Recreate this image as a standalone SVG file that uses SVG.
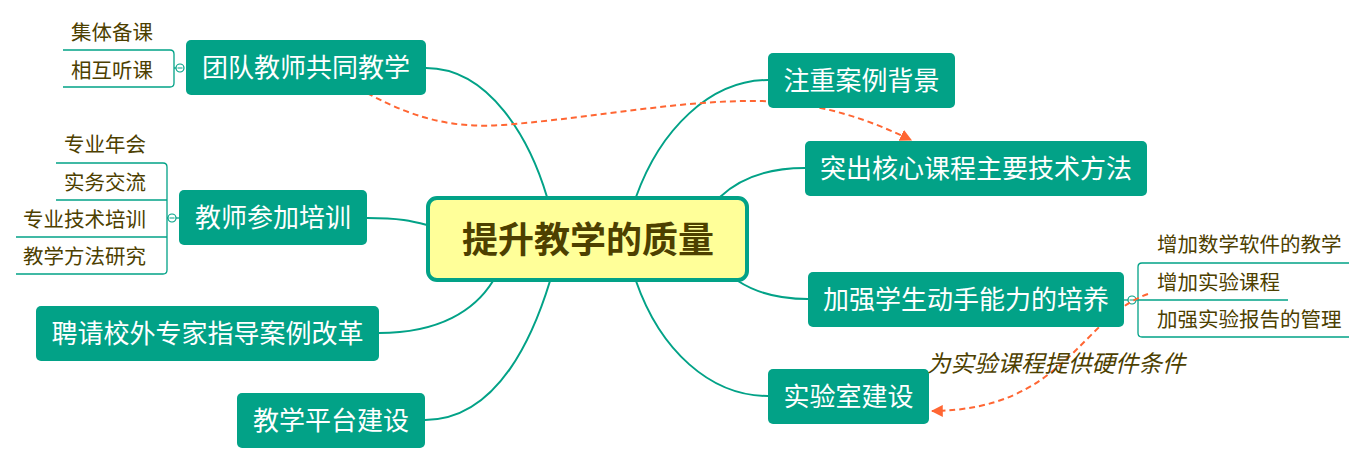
<svg xmlns="http://www.w3.org/2000/svg" width="1365" height="465" viewBox="0 0 1365 465">
<defs>
<style>
.node{fill:#02A287;}
.nt{font-family:"Noto Sans CJK SC","Noto Sans",sans-serif;font-size:26px;fill:#ffffff;text-anchor:middle;}
.st{font-family:"Noto Sans CJK SC","Noto Sans",sans-serif;font-size:20.5px;fill:#4D4000;}
.conn{fill:none;stroke:#02A287;stroke-width:2;}
.sub{fill:none;stroke:#02A287;stroke-width:1.3;}
.rel{fill:none;stroke:#FF6633;stroke-width:2;stroke-dasharray:6,4;}
.tog{fill:#ffffff;stroke:#02A287;stroke-width:1.2;}
</style>
<marker id="arr" viewBox="0 0 10 10" refX="9" refY="5" markerWidth="6" markerHeight="6" orient="auto" markerUnits="strokeWidth">
<path d="M0,0 L10,5 L0,10 z" fill="#FF6633"/>
</marker>
</defs>
<rect width="1365" height="465" fill="#ffffff"/>
<g id="connectors">
<path class="conn" d="M426,68 C490,68 530,140 547,197"/>
<path class="conn" d="M367,218 C400,218 412,221 427,225"/>
<path class="conn" d="M379,333 C440,333 475,310 493,281"/>
<path class="conn" d="M425,420 C500,420 535,330 550,281"/>
<path class="conn" d="M636,197 C660,130 710,80 768,80"/>
<path class="conn" d="M720,197 C740,178 770,168 805,168"/>
<path class="conn" d="M738,281 C755,292 780,299 808,299"/>
<path class="conn" d="M636,281 C660,350 710,396 768,396"/>
<path class="sub" d="M63,50 H170 Q174,50 174,54 V83 Q174,87 170,87 H63"/>
<line class="sub" x1="174" y1="68" x2="184" y2="68"/>
<path class="sub" d="M56,163 H163 Q167,163 167,167 V270 Q167,274 163,274 H16"/>
<line class="sub" x1="56" y1="200" x2="167" y2="200"/>
<line class="sub" x1="16" y1="237" x2="167" y2="237"/>
<line class="sub" x1="167" y1="218" x2="179" y2="218"/>
<path class="sub" d="M1349,263 H1142 Q1138,263 1138,267 V333 Q1138,337 1142,337 H1349"/>
<line class="sub" x1="1138" y1="300" x2="1288" y2="300"/>
<line class="sub" x1="1124" y1="300" x2="1138" y2="300"/>
<circle class="tog" cx="180" cy="68" r="4"/>
<line x1="177.5" y1="68" x2="182.5" y2="68" stroke="#02A287" stroke-width="1"/>
<circle class="tog" cx="172" cy="218" r="4"/>
<line x1="169.5" y1="218" x2="174.5" y2="218" stroke="#02A287" stroke-width="1"/>
<circle class="tog" cx="1132" cy="300" r="4"/>
<line x1="1129.5" y1="300" x2="1134.5" y2="300" stroke="#02A287" stroke-width="1"/>
<path class="rel" marker-end="url(#arr)" d="M367,93 C420,122 460,128 503,125 C600,117 680,100 760,101 C820,102 870,120 911,140"/>
<path class="rel" marker-end="url(#arr)" d="M1148,294 C1080,318 1065,410 932,411"/>
</g>
<g id="center">
<rect x="428" y="198" width="319" height="82" rx="9" fill="#FFFF99" stroke="#02A287" stroke-width="4"/>
<text x="588" y="253" font-family="'Noto Sans CJK SC','Noto Sans',sans-serif" font-size="36" font-weight="bold" fill="#4D4000" text-anchor="middle">提升教学的质量</text>
</g>
<g id="n1"><rect class="node" x="186" y="40" width="240" height="55" rx="5"/><text class="nt" x="306" y="77">团队教师共同教学</text></g>
<g id="n1a"><text class="st" x="153" y="40" text-anchor="end">集体备课</text></g>
<g id="n1b"><text class="st" x="153" y="78" text-anchor="end">相互听课</text></g>
<g id="n2"><rect class="node" x="179" y="190" width="188" height="55" rx="5"/><text class="nt" x="273" y="227">教师参加培训</text></g>
<g id="n2a"><text class="st" x="146" y="152" text-anchor="end">专业年会</text></g>
<g id="n2b"><text class="st" x="146" y="190" text-anchor="end">实务交流</text></g>
<g id="n2c"><text class="st" x="146" y="227" text-anchor="end">专业技术培训</text></g>
<g id="n2d"><text class="st" x="146" y="264" text-anchor="end">教学方法研究</text></g>
<g id="n3"><rect class="node" x="36" y="306" width="343" height="55" rx="5"/><text class="nt" x="207.5" y="343">聘请校外专家指导案例改革</text></g>
<g id="n4"><rect class="node" x="237" y="393" width="188" height="55" rx="5"/><text class="nt" x="331" y="430">教学平台建设</text></g>
<g id="n5"><rect class="node" x="768" y="53" width="187" height="55" rx="5"/><text class="nt" x="861.5" y="90">注重案例背景</text></g>
<g id="n6"><rect class="node" x="805" y="141" width="342" height="55" rx="5"/><text class="nt" x="976" y="178">突出核心课程主要技术方法</text></g>
<g id="n7"><rect class="node" x="808" y="272" width="316" height="55" rx="5"/><text class="nt" x="966" y="309">加强学生动手能力的培养</text></g>
<g id="n7a"><text class="st" x="1157" y="252">增加数学软件的教学</text></g>
<g id="n7b"><text class="st" x="1157" y="290">增加实验课程</text></g>
<g id="n7c"><text class="st" x="1157" y="327">加强实验报告的管理</text></g>
<g id="n8"><rect class="node" x="768" y="369" width="161" height="55" rx="5"/><text class="nt" x="848.5" y="406">实验室建设</text></g>
<g id="label"><text x="927" y="372" font-family="'Noto Sans CJK SC','Noto Sans',sans-serif" font-size="23.5" font-style="italic" fill="#4D4000">为实验课程提供硬件条件</text></g>
</svg>
